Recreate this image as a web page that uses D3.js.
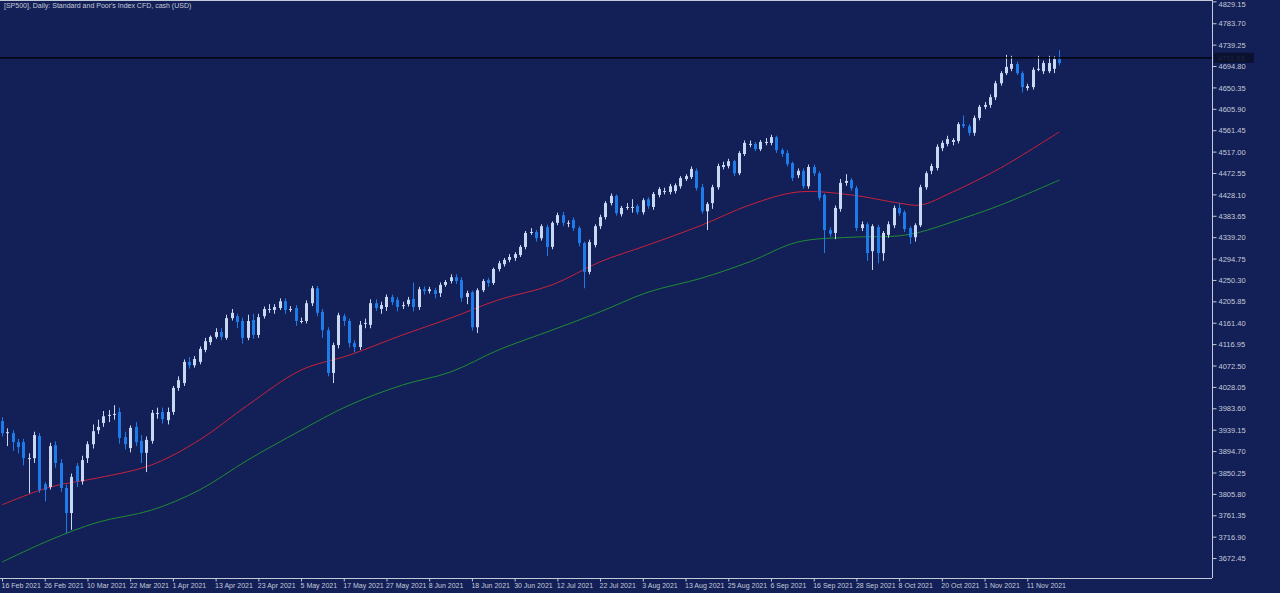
<!DOCTYPE html>
<html><head><meta charset="utf-8">
<script src="https://cdn.jsdelivr.net/npm/d3@7/dist/d3.min.js"></script>
<style>html,body{margin:0;padding:0;background:#131f57;overflow:hidden}</style>
</head><body><svg id="c" width="1280" height="593"></svg>
<script>
const opens=[3957,3934,3932,3913.5,3913.5,3880,3880,3926,3826,3820,3907,3870,3818,3766,3864,3832,3880,3909,3938,3953,3970,3972,3976,3924,3901,3945,3916,3891,3916,3974,3976,3959,3976,4026,4036,4080,4073,4080,4105,4121,4132,4142,4130,4171,4175,4165,4130,4167,4136,4175,4190,4188,4192,4206,4190,4192,4165,4165,4202,4233,4184,4146,4057,4115,4175,4165,4119,4111,4161,4157,4202,4190,4194,4215,4209,4198,4200,4211,4194,4231,4227,4229,4223,4240,4248,4256,4250,4215,4225,4152,4229,4250,4244,4273,4283,4292,4296,4302,4319,4350,4350,4337,4360,4319,4369,4385,4369,4375,4358,4327,4267,4323,4362,4381,4410,4425,4387,4402,4402,4404,4391,4418,4402,4427,4435,4433,4435,4445,4460,4464,4477,4443,4393,4410,4443,4485,4487,4497,4472,4512,4533,4533,4522,4537,4535,4547,4520,4514,4493,4468,4477,4445,4485,4472,4427,4354,4348,4398,4452,4458,4441,4358,4366,4310,4360,4306,4344,4364,4400,4391,4358,4339,4364,4443,4477,4483,4524,4533,4537,4539,4574,4570,4556,4587,4610,4614,4630,4659,4680,4689,4699,4680,4649,4651,4689,4684,4684,4689,4709];
const closes=[3932,3934,3913.5,3903,3880,3880,3928,3814,3814,3905,3870,3818,3766,3841,3832,3876,3909,3936,3945,3967,3970,3972,3922,3909,3943,3913,3891,3918,3974,3974,3961,3976,4026,4042,4080,4073,4086,4107,4123,4132,4142,4132,4171,4182,4163,4130,4165,4136,4173,4190,4190,4194,4206,4188,4190,4165,4165,4202,4233,4182,4146,4057,4115,4177,4165,4119,4111,4157,4161,4202,4192,4198,4215,4204,4194,4198,4209,4194,4231,4227,4231,4221,4240,4246,4256,4248,4213,4223,4152,4229,4248,4244,4273,4285,4292,4298,4304,4319,4348,4350,4337,4362,4319,4369,4385,4369,4369,4358,4327,4267,4329,4362,4381,4410,4425,4389,4400,4402,4402,4391,4416,4404,4429,4439,4435,4445,4447,4462,4466,4481,4441,4393,4408,4443,4487,4489,4497,4472,4514,4535,4533,4522,4537,4537,4547,4520,4512,4491,4462,4477,4445,4485,4472,4421,4354,4346,4400,4452,4456,4441,4358,4366,4306,4362,4306,4348,4366,4400,4389,4356,4339,4364,4443,4472,4487,4527,4535,4543,4541,4574,4570,4556,4587,4610,4614,4630,4659,4680,4693,4699,4680,4651,4653,4687,4689,4701,4701,4709,4701];
const highs=[3965,3942,3938,3920,3920,3890,3935,3932,3830,3912,3915,3878,3825,3848,3870,3885,3915,3950,3960,3978,3980,3990,3985,3935,3948,3955,3928,3925,3980,3985,3985,3985,4030,4050,4085,4090,4092,4112,4130,4135,4150,4150,4178,4190,4180,4172,4178,4180,4180,4195,4200,4200,4212,4212,4196,4198,4172,4208,4238,4238,4190,4152,4120,4182,4180,4170,4125,4165,4170,4210,4210,4205,4220,4220,4215,4205,4215,4245,4236,4237,4236,4234,4245,4250,4262,4262,4256,4228,4228,4233,4252,4255,4276,4290,4296,4304,4308,4323,4352,4358,4354,4366,4365,4372,4390,4392,4374,4380,4362,4330,4334,4366,4386,4414,4430,4428,4404,4410,4418,4408,4420,4422,4433,4443,4442,4450,4451,4466,4470,4486,4482,4450,4412,4448,4492,4496,4502,4500,4518,4540,4540,4537,4541,4545,4552,4550,4524,4520,4496,4482,4482,4490,4490,4476,4430,4360,4405,4460,4470,4462,4446,4372,4370,4366,4365,4352,4372,4405,4410,4395,4362,4368,4448,4476,4492,4532,4540,4550,4545,4578,4592,4574,4592,4614,4620,4636,4664,4684,4718,4716,4704,4684,4658,4692,4716,4706,4716,4715,4728];
const lows=[3925,3905,3895,3890,3865,3807,3870,3808,3790,3815,3860,3810,3724,3731,3820,3825,3870,3900,3930,3945,3955,3960,3910,3898,3892,3905,3870,3851,3910,3962,3952,3950,3970,4020,4030,4066,4068,4075,4100,4115,4128,4125,4126,4166,4150,4118,4125,4128,4130,4170,4182,4180,4188,4180,4184,4155,4160,4160,4196,4175,4130,4050,4036,4108,4155,4110,4100,4105,4150,4150,4186,4180,4186,4198,4185,4190,4195,4185,4188,4220,4222,4212,4215,4236,4243,4242,4205,4200,4145,4140,4225,4236,4240,4268,4278,4287,4290,4298,4314,4344,4330,4332,4300,4314,4364,4362,4360,4352,4320,4233,4262,4318,4356,4376,4405,4384,4382,4396,4390,4386,4386,4398,4396,4422,4428,4428,4430,4440,4456,4460,4436,4388,4354,4398,4438,4480,4482,4466,4468,4508,4526,4518,4518,4530,4530,4514,4506,4486,4456,4462,4440,4440,4466,4415,4306,4340,4335,4392,4446,4436,4352,4352,4290,4271,4285,4290,4338,4358,4384,4350,4325,4330,4360,4438,4470,4478,4518,4528,4530,4534,4566,4550,4550,4582,4605,4608,4624,4654,4676,4684,4676,4640,4644,4646,4684,4678,4680,4680,4696];
const maIdx=[0,9,18,28,37,46,56,65,75,84,93,103,112,121,131,140,149,159,168,172,178,187,198];
const maRed=[3783,3820,3839,3866,3918,3990,4063,4094,4136,4171,4209,4240,4288,4323,4364,4406,4433,4427,4410,4406,4433,4483,4558];
const maGreen=[3664,3710,3747,3772,3814,3876,3938,3990,4032,4059,4105,4146,4184,4225,4254,4288,4329,4339,4342,4350,4371,4406,4458];
const dateLabels=["16 Feb 2021","26 Feb 2021","10 Mar 2021","22 Mar 2021","1 Apr 2021","13 Apr 2021","23 Apr 2021","5 May 2021","17 May 2021","27 May 2021","8 Jun 2021","18 Jun 2021","30 Jun 2021","12 Jul 2021","22 Jul 2021","3 Aug 2021","13 Aug 2021","25 Aug 2021","6 Sep 2021","16 Sep 2021","28 Sep 2021","8 Oct 2021","20 Oct 2021","1 Nov 2021","11 Nov 2021"];
const priceTicks=[4829.15,4783.70,4739.25,4694.80,4650.35,4605.90,4561.45,4517.00,4472.55,4428.10,4383.65,4339.20,4294.75,4250.30,4205.85,4161.40,4116.95,4072.50,4028.05,3983.60,3939.15,3894.70,3850.25,3805.80,3761.35,3716.90,3672.45];
const lastPrice=4711.93;

const svg=d3.select("#c");
const W=1212,H=578;
svg.append("rect").attr("width",1280).attr("height",593).attr("fill","#131f57");
const x=d3.scaleLinear().domain([0,1]).range([2,7.34]);
const y=d3.scaleLinear().domain([4832,3631]).range([0,H]);
const font="'Liberation Sans', Arial, sans-serif";
const fg="#c4cbd8";

const line=d3.line().x(d=>x(d[0])).y(d=>y(d[1])).curve(d3.curveCatmullRom.alpha(0.5));
svg.append("path").attr("d",line(maIdx.map((v,i)=>[v,maGreen[i]]))).attr("fill","none").attr("stroke","#1f8c34").attr("stroke-width",1);
svg.append("path").attr("d",line(maIdx.map((v,i)=>[v,maRed[i]]))).attr("fill","none").attr("stroke","#c8223c").attr("stroke-width",1);

const bull="#c9d8f2", bear="#1f7be8";
const g=svg.append("g");
opens.forEach((o,i)=>{
  const c=closes[i], col=c>=o?bull:bear, cx=Math.round(x(i))+0.5;
  g.append("line").attr("x1",cx).attr("x2",cx).attr("y1",y(highs[i])).attr("y2",y(lows[i])).attr("stroke",col).attr("stroke-width",1);
  const top=y(Math.max(o,c)), bot=y(Math.min(o,c));
  g.append("rect").attr("x",cx-1.5).attr("width",3).attr("y",top).attr("height",Math.max(1,bot-top)).attr("fill",col);
});

svg.append("line").attr("x1",0).attr("x2",W).attr("y1",y(lastPrice)).attr("y2",y(lastPrice)).attr("stroke","#000").attr("stroke-width",1.2);

svg.append("line").attr("x1",0).attr("x2",W).attr("y1",0.5).attr("y2",0.5).attr("stroke",fg);
svg.append("line").attr("x1",W+0.5).attr("x2",W+0.5).attr("y1",0).attr("y2",H).attr("stroke",fg);
svg.append("line").attr("x1",0).attr("x2",W).attr("y1",H+0.5).attr("y2",H+0.5).attr("stroke",fg);

const ya=svg.append("g").attr("transform",`translate(${W+0.5},0)`)
 .call(d3.axisRight(y).tickValues(priceTicks).tickSize(4).tickFormat(d3.format(".2f")));
ya.select(".domain").remove();
ya.selectAll("line").attr("stroke",fg);
ya.selectAll("text").attr("fill",fg).attr("font-family",font).attr("font-size",7.5).attr("x",6).attr("dy","0.35em");
ya.selectAll(".tick").filter(d=>d===priceTicks[0]).select("text").attr("dy","0.7em");
svg.append("rect").attr("x",W+2).attr("y",y(lastPrice)-5).attr("width",40).attr("height",10).attr("fill","#0a1230");
svg.append("text").attr("x",W+6).attr("y",y(lastPrice)+3).text(lastPrice.toFixed(2)).attr("fill","#1a2440").attr("font-family",font).attr("font-size",7.5);

const xa=svg.append("g").attr("transform",`translate(0,${H+0.5})`)
 .call(d3.axisBottom(x).tickValues(dateLabels.map((d,i)=>i*8)).tickSize(3).tickFormat((d,i)=>dateLabels[i]));
xa.select(".domain").remove();
xa.selectAll("line").attr("stroke",fg);
xa.selectAll("text").attr("fill",fg).attr("font-family",font).attr("font-size",7).attr("text-anchor","start").attr("dx",-1).attr("y",5);

svg.append("text").attr("x",4).attr("y",8).text("[SP500], Daily:  Standard and Poor's Index CFD, cash (USD)").attr("fill",fg).attr("font-family",font).attr("font-size",7);
</script></body></html>
